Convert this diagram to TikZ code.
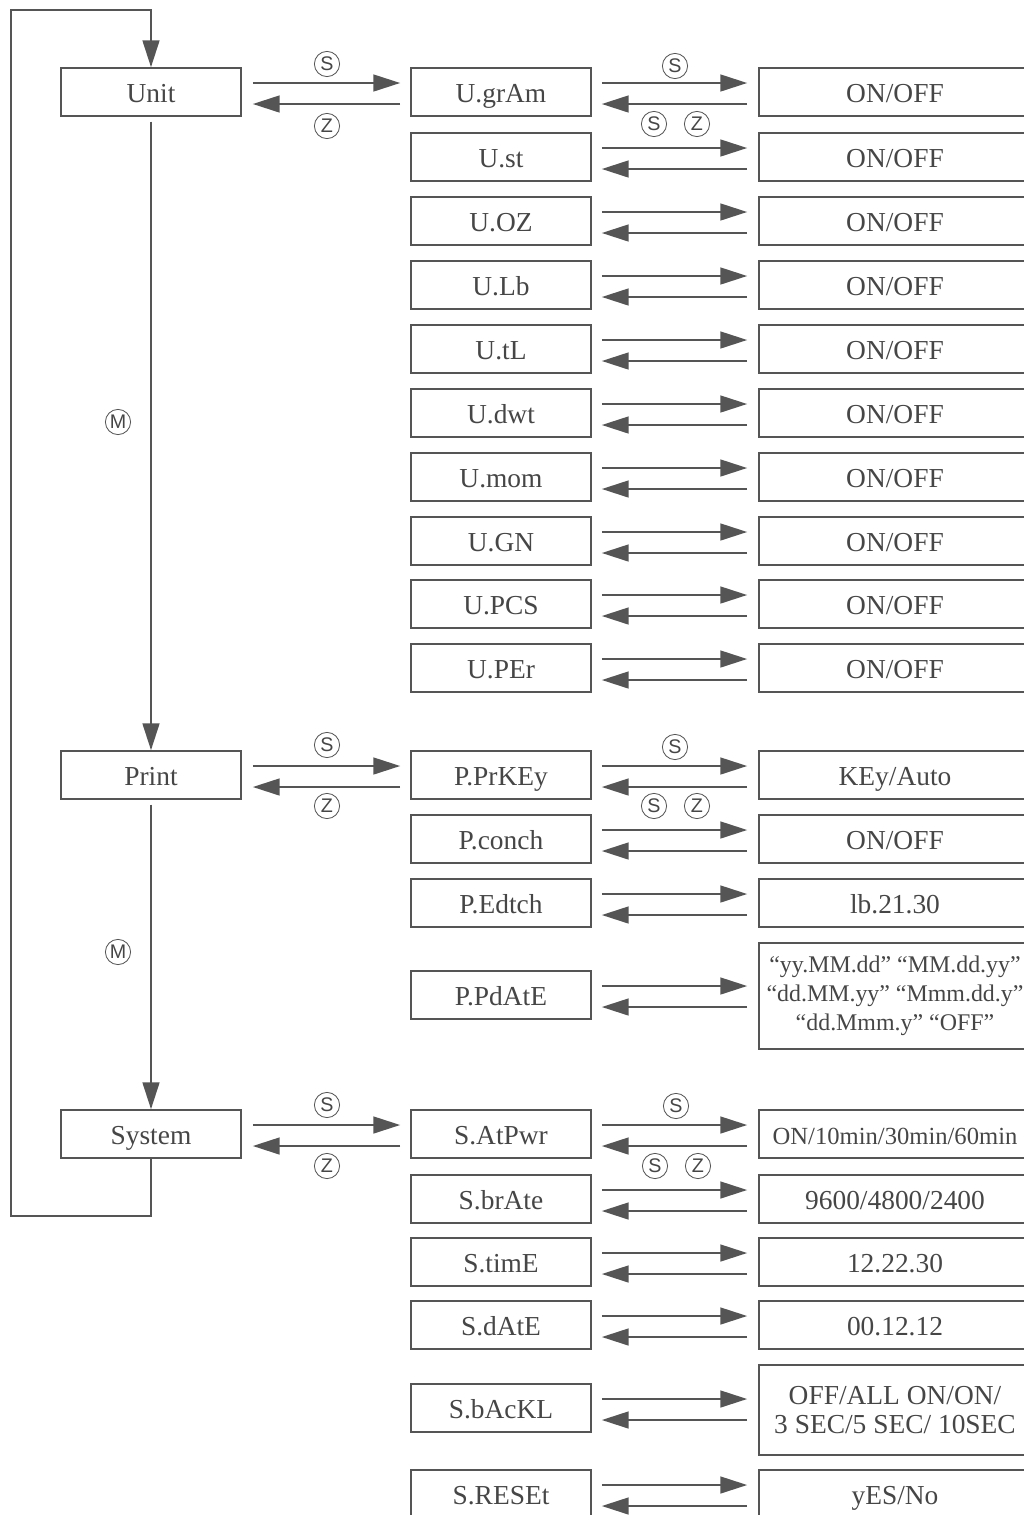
\documentclass[tikz,border=0pt]{standalone}
\usepackage{fontspec}
\setmainfont{Liberation Serif}
\newfontfamily\keyfont{Liberation Sans}
\usetikzlibrary{arrows.meta,calc,positioning}
\definecolor{LineGray}{RGB}{85,85,85}
\definecolor{TextGray}{RGB}{70,70,70}

\begin{document}
\begin{tikzpicture}[
  x=0.025cm, y=-0.025cm,
  frame/.style={rectangle, draw=LineGray, line width=1.2pt, minimum width=4.5cm, minimum height=1.2cm,
              inner sep=0pt, text=TextGray, font=\fontsize{19.5}{21}\selectfont},
  box/.style={frame, text height=19pt, text depth=3.4pt},
  valbox/.style={box, minimum width=6.8cm},
  longval/.style={frame, minimum width=6.8cm, align=center},
  arrow/.style={-{Triangle[length=19pt, width=12pt]}, line width=1.2pt, LineGray},
  key/.style={circle, draw=LineGray, line width=0.6pt, minimum size=0.63cm, inner sep=0pt,
              text=TextGray, font=\keyfont\fontsize{14}{14}\selectfont}
]
\path[use as bounding box, fill=white] (0,0) rectangle (1024,1515);
\clip (0,0) rectangle (1024,1515);

% menu groups
\node[box] (unit) at (151,92) {Unit};
\node[box] (print) at (151,775) {Print};
\node[box] (system) at (151,1134) {System};

% sub-menus with one-line values
\foreach \i/\y/\a/\b in {1/92/U.grAm/{ON/OFF}, 2/157/U.st/{ON/OFF}, 3/221/U.OZ/{ON/OFF},
    4/285/U.Lb/{ON/OFF}, 5/349/U.tL/{ON/OFF}, 6/413/U.dwt/{ON/OFF}, 7/477/U.mom/{ON/OFF},
    8/541/U.GN/{ON/OFF}, 9/604/U.PCS/{ON/OFF}, 10/668/U.PEr/{ON/OFF},
    11/775/P.PrKEy/{KEy/Auto}, 12/839/P.conch/{ON/OFF}, 13/903/P.Edtch/lb.21.30,
    16/1199/S.brAte/{9600/4800/2400}, 17/1262/S.timE/12.22.30, 18/1325/S.dAtE/00.12.12,
    20/1494/S.RESEt/{yES/No}} {
  \node[box] (m\i) at (501,\y) {\a};
  \node[valbox] (v\i) at (895,\y) {\b};
}

% sub-menus with longer values
\node[box] (m14) at (501,995) {P.PdAtE};
\node[longval, minimum height=2.65cm, font=\fontsize{17}{20.6}\selectfont] (v14) at (895,996)
  {\raisebox{-3pt}{“yy.MM.dd” “MM.dd.yy”}\\\raisebox{-3pt}{“dd.MM.yy” “Mmm.dd.y”}\\\raisebox{-3pt}{“dd.Mmm.y” “OFF”}};
\node[box] (m15) at (501,1134) {S.AtPwr};
\node[valbox, font=\fontsize{17.5}{21}\selectfont] (v15) at (895,1134) {ON/10min/30min/60min};
\node[box] (m19) at (501,1408) {S.bAcKL};
\node[longval, minimum height=2.25cm] (v19) at (895,1410) {OFF/ALL ON/ON/\\3 SEC/5 SEC/ 10SEC};

% value arrows
\foreach \i in {1,...,20} {
  \draw[arrow] ($(m\i.east)+(10,-9)$) -- ($(m\i.east -| v\i.west)+(-11,-9)$);
  \draw[arrow] ($(m\i.east -| v\i.west)+(-11,12)$) -- ($(m\i.east)+(10,12)$);
}

% group arrows
\draw[arrow] ($(unit.east)+(11,-9)$) -- ($(unit.east -| m1.west)+(-10,-9)$);
\draw[arrow] ($(unit.east -| m1.west)+(-10,12)$) -- ($(unit.east)+(11,12)$);
\draw[arrow] ($(print.east)+(11,-9)$) -- ($(print.east -| m11.west)+(-10,-9)$);
\draw[arrow] ($(print.east -| m11.west)+(-10,12)$) -- ($(print.east)+(11,12)$);
\draw[arrow] ($(system.east)+(11,-9)$) -- ($(system.east -| m15.west)+(-10,-9)$);
\draw[arrow] ($(system.east -| m15.west)+(-10,12)$) -- ($(system.east)+(11,12)$);

% M key chain and loop back
\draw[arrow, shorten <=0.12cm] (unit.south) -- (print.north);
\draw[arrow, shorten <=0.12cm] (print.south) -- (system.north);
\coordinate (corner) at (11,10);
\draw[arrow] (system.south) -- ++(0,57) -| (corner) -| (unit.north);

% key labels
\node[key] (mkey1) at (118,422) {M};
\node[key] (mkey2) at (118,952) {M};
\node[key] (us) at (327,64) {S};
\node[key] (uz) at (327,126) {Z};
\node[key] (ps) at (327,745) {S};
\node[key] (pz) at (327,806) {Z};
\node[key] (ss) at (327,1105) {S};
\node[key] (sz) at (327,1166) {Z};
\node[key] (uvs) at (675,66) {S};
\node[key] (uns) at (654,124) {S};
\node[key] (unz) at (697,124) {Z};
\node[key] (pvs) at (675,747) {S};
\node[key] (pns) at (654,806) {S};
\node[key] (pnz) at (697,806) {Z};
\node[key] (svs) at (676,1106) {S};
\node[key] (sns) at (655,1166) {S};
\node[key] (snz) at (698,1166) {Z};
\end{tikzpicture}
\end{document}
